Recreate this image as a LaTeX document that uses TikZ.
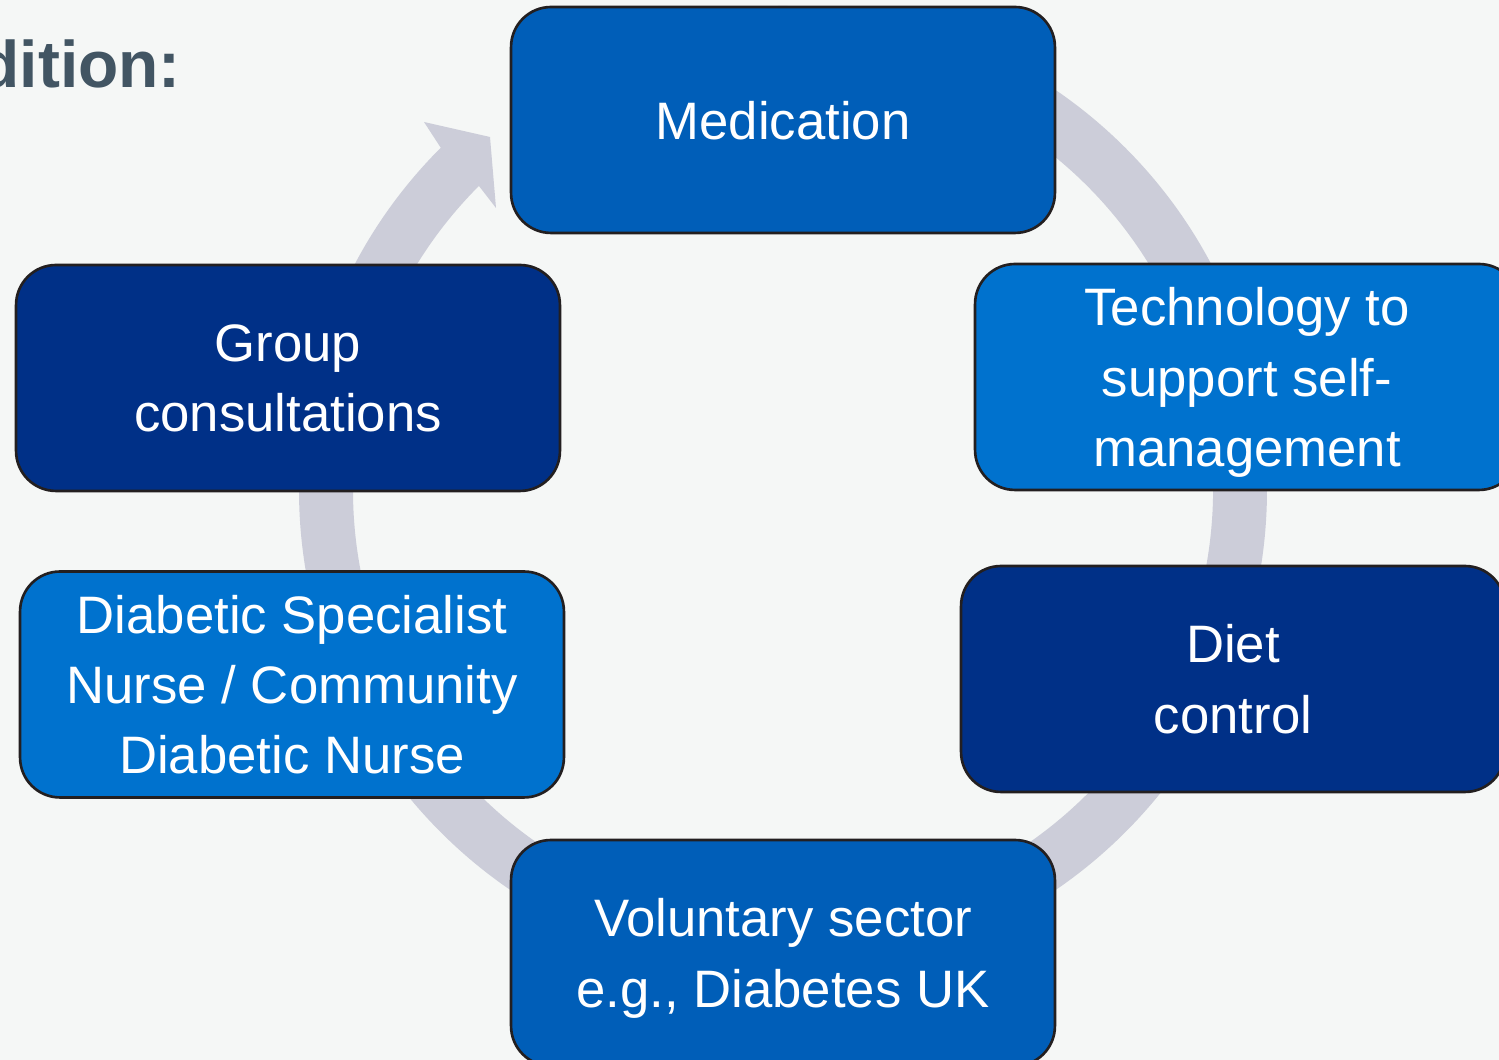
\documentclass[tikz,border=0pt]{standalone}
\usepackage{fontspec}
\setmainfont{Liberation Sans}
\definecolor{nhsblue}{HTML}{005EB8}
\definecolor{brightblue}{HTML}{0072CE}
\definecolor{darkblue}{HTML}{003087}
\definecolor{ringgrey}{HTML}{CCCDD9}
\definecolor{titlegrey}{HTML}{425563}
\definecolor{paper}{HTML}{F5F7F6}
\definecolor{edge}{HTML}{231F20}
\tikzset{box/.style={draw=edge, line width=1.5pt, rounded corners=0.8cm, minimum width=10.88cm, minimum height=4.52cm, text depth=0pt, text=white, align=center, font=\fontsize{30}{40}\selectfont}}

\begin{document}
\begin{tikzpicture}[x=0.02cm,y=0.02cm]
\useasboundingbox (0,0) rectangle (1499,1060);
\clip (0,0) rectangle (1499,1060);
\fill [paper] (0,0) rectangle (1499,1060);
\node [anchor=base east, text=titlegrey, font=\bfseries\fontsize{37.5}{45}\selectfont] (title) at (187,972) {dition:};
\coordinate (c) at (783,570);
\fill [ringgrey] (c) ++(135:484) arc [start angle=135, end angle=478, radius=484] -- ++(478:-54) arc [start angle=478, end angle=135, radius=430] -- (496,852) -- (490,923) -- (424,938) -- cycle;
\node [box, fill=nhsblue] (med) at (783,940) {Medication};
\node [box, fill=brightblue] (tech) at (1247,683) {Technology to\\support self-\\management};
\node [box, fill=darkblue] (diet) at (1233,381) {Diet\\control};
\node [box, fill=nhsblue] (vol) at (783,107) {Voluntary sector\\e.g., Diabetes UK};
\node [box, fill=brightblue] (nurse) at (292,375.5) {Diabetic Specialist\\Nurse / Community\\Diabetic Nurse};
\node [box, fill=darkblue] (group) at (288,682) {Group\\consultations};
\end{tikzpicture}
\end{document}
